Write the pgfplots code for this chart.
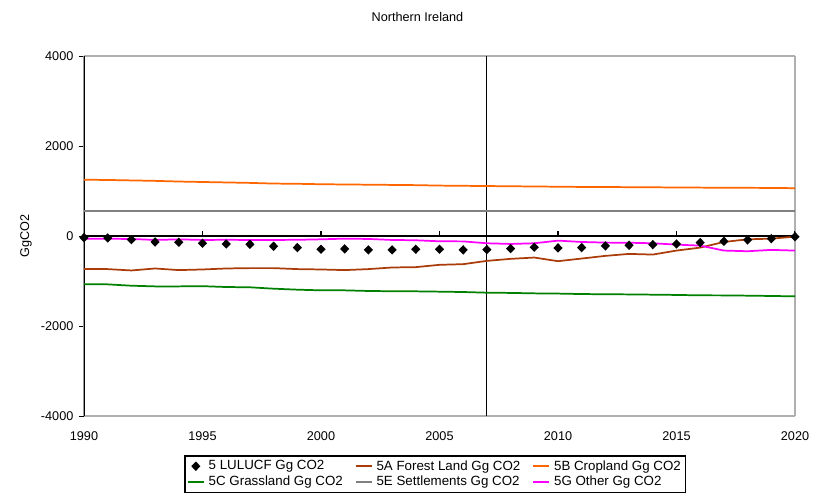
\documentclass[border=0pt]{standalone}
\usepackage{fontspec}
\setmainfont{Liberation Sans}
\usepackage{pgfplots}
\pgfplotsset{compat=1.18}
\usetikzlibrary{calc}

\definecolor{forest}{RGB}{170,60,10}
\definecolor{crop}{RGB}{255,102,0}
\definecolor{grass}{RGB}{0,128,0}
\definecolor{settle}{RGB}{128,128,128}
\definecolor{other}{RGB}{255,0,255}
\definecolor{frame}{RGB}{175,175,175}

\begin{document}
\begin{tikzpicture}
\begin{axis}[
    name=ax,
    scale only axis,
    width=533.25pt, height=270pt,
    xmin=1990, xmax=2020,
    ymin=-4000, ymax=4000,
    xtick={1990,1995,...,2020},
    ytick={-4000,-2000,0,2000,4000},
    /pgf/number format/1000 sep={},
    /pgf/number format/assume math mode=true,
    ticklabel style={font=\fontsize{9.5}{11}\selectfont},
    separate axis lines,
    x axis line style={draw=frame, line width=0.8pt},
    y axis line style={draw=frame, line width=0.8pt},
    xtick pos=bottom, ytick pos=left,
    tick align=outside,
    xtick style={draw=none},
    ytick style={black, line width=0.6pt},
    major tick length=4pt,
    xticklabel style={yshift=-4pt},
    ylabel={GgCO2},
    every axis y label/.style={at={(axis description cs:-0.0816,0.5)}, rotate=90, anchor=center, font=\fontsize{9.5}{11}\selectfont},
    title={Northern Ireland},
    every axis title/.style={at={(axis description cs:0.469,1.108)}, anchor=center, font=\fontsize{9.5}{11}\selectfont},
    legend style={at={(0.494,-0.108)}, anchor=north, legend columns=3,
        font=\fontsize{10}{12}\selectfont,
        inner sep=1.5pt, row sep=-1pt,
        /tikz/every odd column/.append style={column sep=1pt},
        /tikz/every even column/.append style={column sep=7pt}},
    legend cell align=left,
    legend image code/.code={\draw[mark repeat=2, mark phase=2, #1] plot coordinates {(0pt,0pt) (6pt,0pt) (12pt,0pt)};},
    line width=1.3pt,
]
% legend in the chart's order
\addlegendimage{only marks, mark=diamond*, draw=black, fill=black, mark size=2.6pt, mark options={xscale=1.3}}
\addlegendentry{5 LULUCF Gg CO2}
\addlegendimage{draw=forest, line width=1.3pt}
\addlegendentry{5A Forest Land Gg CO2}
\addlegendimage{draw=crop, line width=1.3pt}
\addlegendentry{5B Cropland Gg CO2}
\addlegendimage{draw=grass, line width=1.3pt}
\addlegendentry{5C Grassland Gg CO2}
\addlegendimage{draw=settle, line width=1.3pt}
\addlegendentry{5E Settlements Gg CO2}
\addlegendimage{draw=other, line width=1.3pt}
\addlegendentry{5G Other Gg CO2}

% left axis, zero line, marker year
\addplot[black, line width=0.8pt, forget plot] coordinates {(1990,-4000) (1990,4000)};
\addplot[black, line width=0.8pt, forget plot] coordinates {(1990,0) (2020,0)};
\addplot[black, line width=0.8pt, forget plot] coordinates {(2007,-4000) (2007,4000)};
\pgfplotsinvokeforeach{1995,2000,2005,2010,2015,2020}{
  \draw[black, line width=0.8pt] (axis cs:#1,0) -- ++(0pt,4pt);
}

\addplot[settle, forget plot] coordinates {
(1990,560) (1995,560) (2000,560) (2005,560) (2010,560) (2015,560) (2020,560)};

\addplot[crop, forget plot] coordinates {
(1990,1250) (1991,1245) (1992,1235) (1993,1225) (1994,1210) (1995,1200)
(1996,1190) (1997,1180) (1998,1165) (1999,1160) (2000,1150) (2001,1145)
(2002,1140) (2003,1135) (2004,1130) (2005,1120) (2006,1115) (2007,1110)
(2008,1105) (2009,1100) (2010,1095) (2011,1090) (2012,1088) (2013,1085)
(2014,1082) (2015,1078) (2016,1075) (2017,1072) (2018,1070) (2019,1068)
(2020,1062)};

\addplot[grass, forget plot] coordinates {
(1990,-1075) (1991,-1075) (1992,-1105) (1993,-1120) (1994,-1120) (1995,-1115)
(1996,-1134) (1997,-1140) (1998,-1171) (1999,-1193) (2000,-1208) (2001,-1208)
(2002,-1222) (2003,-1228) (2004,-1230) (2005,-1237) (2006,-1245) (2007,-1260)
(2008,-1265) (2009,-1275) (2010,-1280) (2011,-1290) (2012,-1295) (2013,-1298)
(2014,-1304) (2015,-1310) (2016,-1319) (2017,-1320) (2018,-1326) (2019,-1333)
(2020,-1341)};

\addplot[forest, forget plot] coordinates {
(1990,-736) (1991,-736) (1992,-766) (1993,-722) (1994,-758) (1995,-744)
(1996,-722) (1997,-714) (1998,-714) (1999,-736) (2000,-744) (2001,-758)
(2002,-736) (2003,-700) (2004,-692) (2005,-641) (2006,-626) (2007,-553)
(2008,-508) (2009,-479) (2010,-560) (2011,-501) (2012,-442) (2013,-398)
(2014,-413) (2015,-324) (2016,-258) (2017,-133) (2018,-74) (2019,-59)
(2020,-15)};

\addplot[other, forget plot] coordinates {
(1990,-59) (1991,-62) (1992,-66) (1993,-88) (1994,-75) (1995,-88)
(1996,-85) (1997,-88) (1998,-88) (1999,-85) (2000,-74) (2001,-59)
(2002,-66) (2003,-88) (2004,-95) (2005,-118) (2006,-120) (2007,-162)
(2008,-177) (2009,-162) (2010,-103) (2011,-133) (2012,-147) (2013,-150)
(2014,-162) (2015,-192) (2016,-214) (2017,-324) (2018,-339) (2019,-309)
(2020,-324)};

\addplot[only marks, mark=diamond*, black, mark size=2.6pt, mark options={xscale=1.3}, forget plot] coordinates {
(1990,-37) (1991,-44) (1992,-81) (1993,-133) (1994,-140) (1995,-162)
(1996,-177) (1997,-184) (1998,-228) (1999,-258) (2000,-295) (2001,-287)
(2002,-309) (2003,-309) (2004,-295) (2005,-295) (2006,-309) (2007,-302)
(2008,-280) (2009,-250) (2010,-265) (2011,-258) (2012,-221) (2013,-206)
(2014,-192) (2015,-177) (2016,-147) (2017,-118) (2018,-88) (2019,-59)
(2020,-15)};
\end{axis}
\pgfresetboundingbox
\path[use as bounding box] ($(ax.south west)+(-63pt,-57.75pt)$) rectangle ($(ax.north east)+(19.5pt,42pt)$);
\end{tikzpicture}
\end{document}
